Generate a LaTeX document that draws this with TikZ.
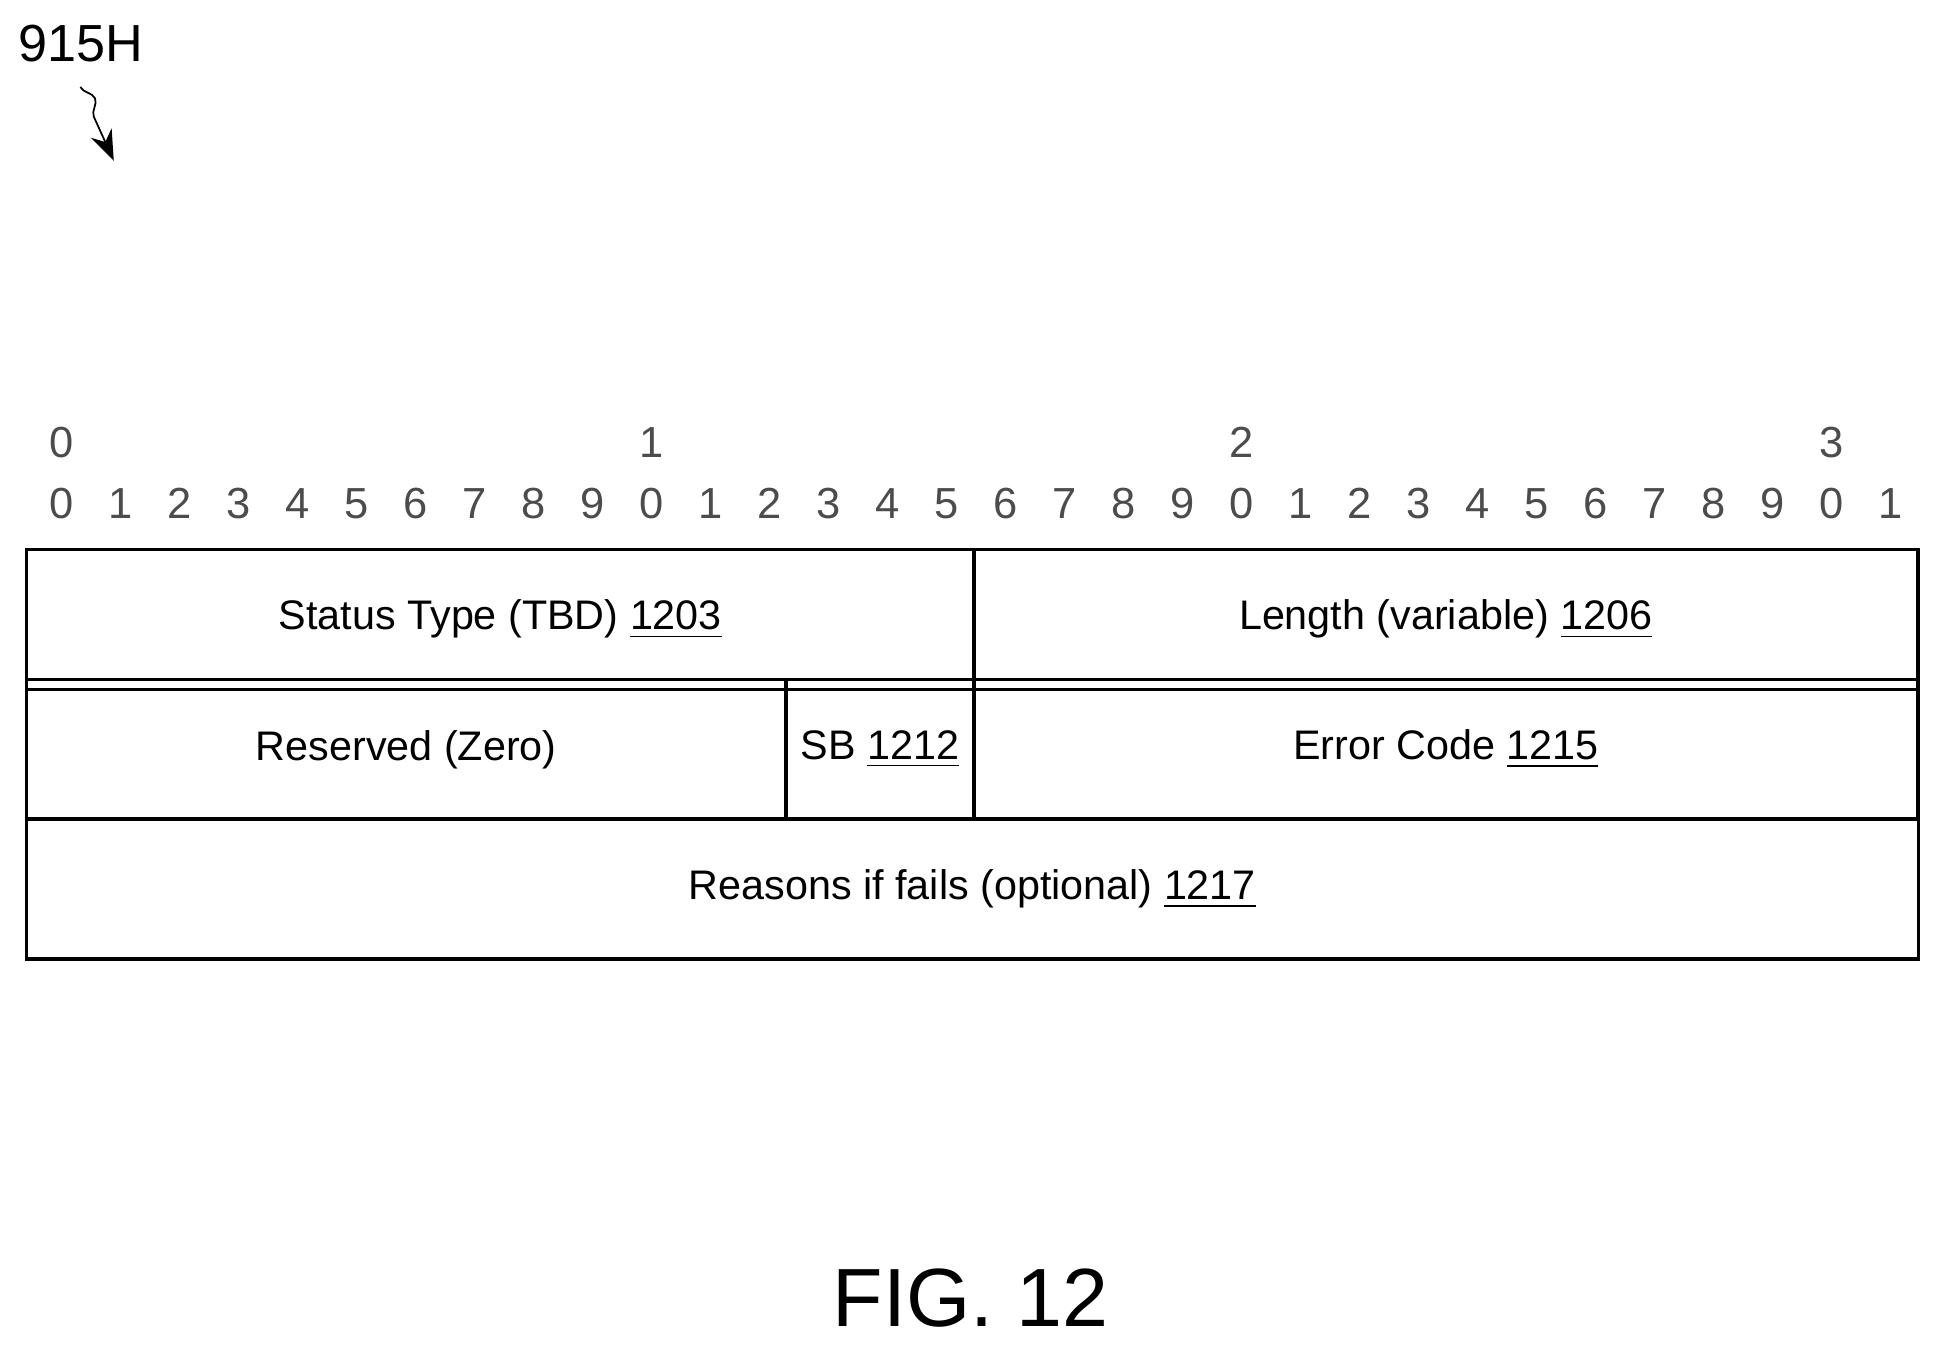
\documentclass[tikz,border=0pt]{standalone}
\usepackage{fontspec}
\setmainfont{Liberation Sans}
\usetikzlibrary{arrows.meta, positioning, decorations.pathmorphing}

\tikzset{
  field/.style={draw, line width=0.8pt, minimum height=1.13cm, inner sep=0pt, anchor=north west},
  bitnum/.style={font=\fontsize{10}{12}\selectfont, gray!60!black},
  lbl/.style={font=\fontsize{9.5}{12}\selectfont}
}

\begin{document}
\begin{tikzpicture}[x=0.01cm, y=-0.01cm]
  \useasboundingbox (0,0) rectangle (1568,1090);

  % reference label
  \node (ref) [lbl, font=\fontsize{12}{14}\selectfont] at (65,35) {915H};
  \coordinate (tip) at (92,130);
  \draw [-{Stealth[length=7pt]}, decorate, decoration={snake, amplitude=2pt, segment length=12pt, post length=8pt}]
    (ref.south) ++(0,8) -- (tip);

  % bit numbers
  \foreach \i in {0,...,31} {
    \pgfmathtruncatemacro{\u}{mod(\i,10)}
    \node (b\i) [bitnum] at ({50+\i*47.7},407) {\u};
  }
  \foreach \t/\i in {0/0,1/10,2/20,3/30}
    \node (t\t) [bitnum] at ({50+\i*47.7},358) {\t};

  % fields
  \node (status) [field, minimum width=7.66cm] at (20,443) {};
  \node [lbl] at (status.center) {Status Type (TBD) \underline{1203}};
  \node (length) [field, minimum width=7.63cm] at (786,443) {};
  \node [lbl] at (length.center) {Length (variable) \underline{1206}};
  \node (resv) [field, minimum width=6.14cm] at (20,548) {};
  \node [lbl] at (resv.center) {Reserved (Zero)};
  \node (sb) [field, minimum width=1.52cm] at (634,548) {};
  \node [lbl] at (sb.center) {SB \underline{1212}};
  \node (err) [field, minimum width=7.63cm] at (786,548) {};
  \node [lbl] at (err.center) {Error Code \underline{1215}};
  \node (reason) [field, minimum width=15.29cm] at (20,661) {};
  \node [lbl] at (reason.center) {Reasons if fails (optional) \underline{1217}};

  % caption
  \node (fig) [font=\fontsize{19}{22}\selectfont] at (785,1050) {FIG. 12};
\end{tikzpicture}
\end{document}
